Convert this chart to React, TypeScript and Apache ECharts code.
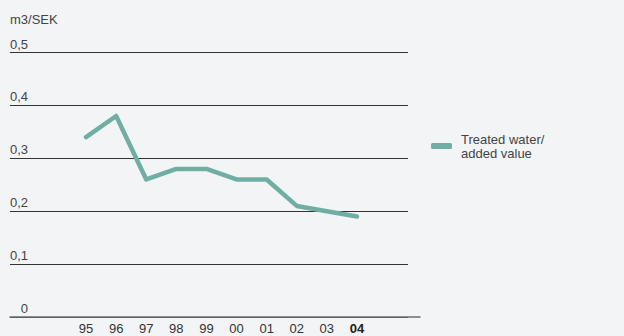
import React, { useEffect, useRef } from "react";
import * as echarts from "echarts";

const years = ["95", "96", "97", "98", "99", "00", "01", "02", "03", "04"];
const treatedWater = [0.34, 0.38, 0.26, 0.28, 0.28, 0.26, 0.26, 0.21, 0.2, 0.19];
const seriesName = "Treated water/\nadded value";
const unitLabel = "m3/SEK";

const FONT = "'Liberation Sans', Arial, sans-serif";
const TEAL = "#70aea4";
const FS = 13;

export default function App() {
  const ref = useRef<HTMLDivElement>(null);

  useEffect(() => {
    document.body.style.margin = "0";
    if (!ref.current) return;
    const chart = echarts.init(ref.current, null, { renderer: "svg" });
    const top = 52.5;
    const bottom = 19;
    chart.setOption({
      animation: false,
      backgroundColor: "#f3f4f6",
      textStyle: { fontFamily: FONT },
      title: {
        text: unitLabel,
        left: 10,
        top: 13,
        padding: 0,
        textStyle: { fontSize: FS, fontWeight: "normal", color: "#444", fontFamily: FONT },
      },
      legend: {
        left: 431,
        top: 132,
        padding: 0,
        itemWidth: 21,
        itemHeight: 6,
        icon: "roundRect",
        data: [seriesName],
        textStyle: {
          fontSize: FS,
          color: "#444",
          fontFamily: FONT,
          lineHeight: 14,
          padding: [0, 0, 0, 4],
        },
      },
      grid: [
        // horizontal gridlines and value labels
        { left: 10, right: 216, top, bottom },
        // the data line and year labels
        { left: 71, right: 252, top, bottom },
        // baseline at zero
        { left: 10, right: 204, top, bottom },
      ],
      xAxis: [
        { gridIndex: 0, type: "value", show: false, min: 0, max: 1 },
        {
          gridIndex: 1,
          type: "category",
          data: years,
          boundaryGap: true,
          axisLine: { show: false },
          axisTick: { show: false },
          axisLabel: {
            interval: 0,
            margin: 5,
            fontSize: FS,
            color: "#333",
            fontFamily: FONT,
            formatter: (v: string, i: number) =>
              i === years.length - 1 ? `{b|${v}}` : v,
            rich: {
              b: { fontWeight: "bold", fontSize: FS, color: "#222", fontFamily: FONT },
            },
          },
        },
        {
          gridIndex: 2,
          type: "value",
          min: 0,
          max: 1,
          axisLine: { show: true, lineStyle: { color: "#6e6e6e", width: 1.5 } },
          axisTick: { show: false },
          axisLabel: { show: false },
          splitLine: { show: false },
          z: 5,
        },
      ],
      yAxis: [
        {
          gridIndex: 0,
          type: "value",
          min: 0,
          max: 0.5,
          interval: 0.1,
          axisLine: { show: false },
          axisTick: { show: false },
          splitLine: { show: true, lineStyle: { color: "#333", width: 1 } },
          axisLabel: {
            inside: true,
            align: "right",
            verticalAlign: "bottom",
            margin: 18,
            padding: [0, 0, 2, 0],
            fontSize: FS,
            color: "#444",
            fontFamily: FONT,
            formatter: (v: number) => (v === 0 ? "0" : v.toFixed(1).replace(".", ",")),
          },
        },
        { gridIndex: 1, type: "value", min: 0, max: 0.5, show: false },
        { gridIndex: 2, type: "value", min: 0, max: 0.5, show: false },
      ],
      series: [
        {
          name: seriesName,
          type: "line",
          xAxisIndex: 1,
          yAxisIndex: 1,
          data: treatedWater,
          symbol: "none",
          color: TEAL,
          lineStyle: { color: TEAL, width: 4.5, cap: "round", join: "round" },
          z: 10,
        },
      ],
    });
    return () => chart.dispose();
  }, []);

  return <div ref={ref} style={{ width: 624, height: 336 }} />;
}
